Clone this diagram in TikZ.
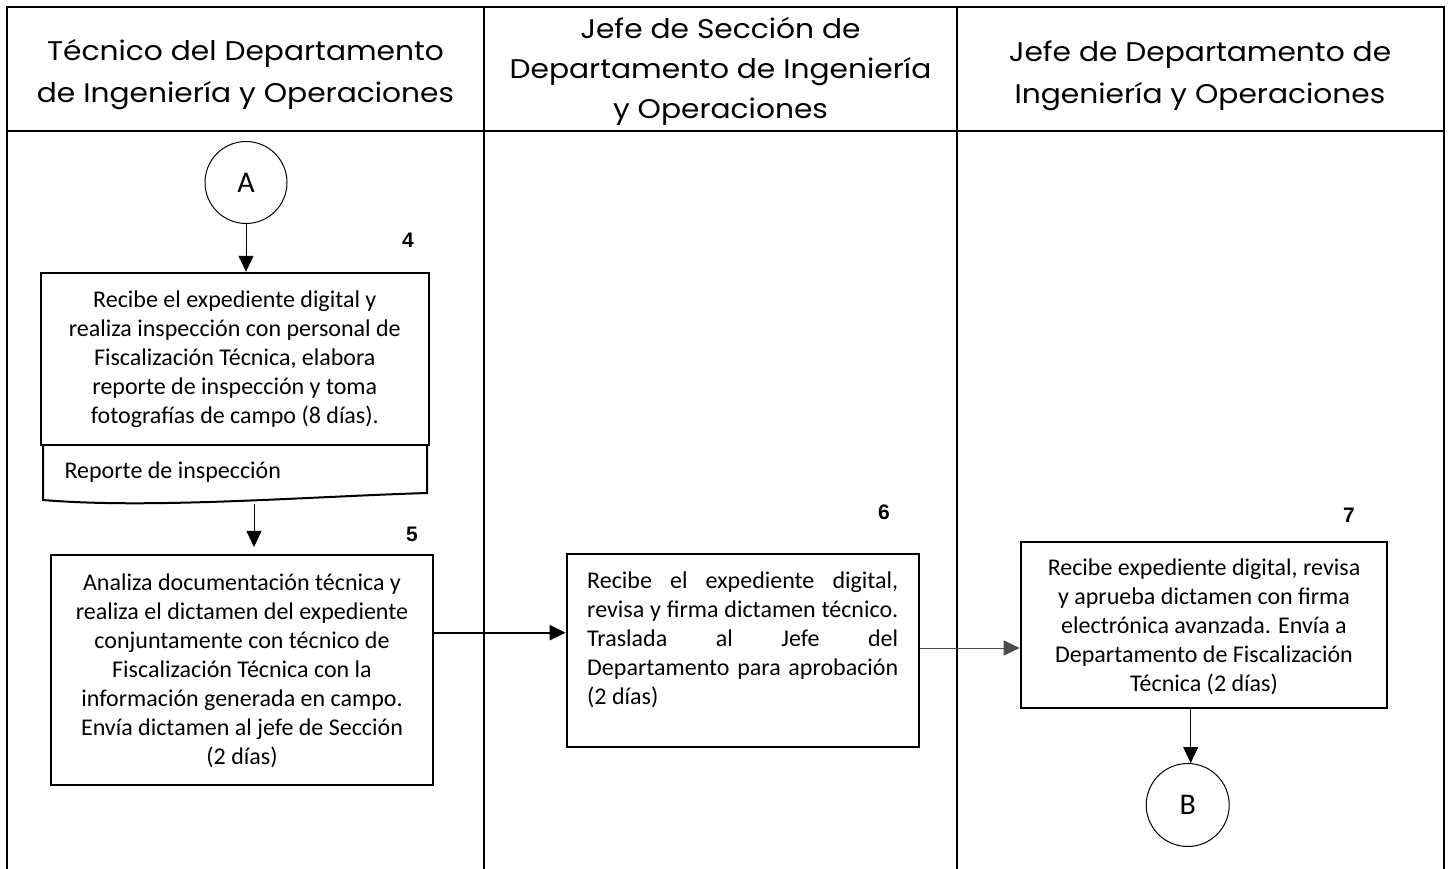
\documentclass[tikz,border=0pt]{standalone}
\usepackage{fontspec}
\setmainfont{Carlito}
\newfontfamily\headfont{Poppins}[FakeStretch=1.1]
\newfontfamily\numfont{Liberation Sans}
\usetikzlibrary{arrows.meta}
\begin{document}
\begin{tikzpicture}[x=1pt,y=-1pt,
  frame/.style={line width=2pt},
  procbox/.style={draw, line width=2pt, rectangle, inner sep=0pt},
  connector/.style={draw, circle, line width=1pt, inner sep=0pt, font=\fontsize{30}{34}\selectfont},
  boxtext/.style={align=center, font=\fontsize{24}{29}\selectfont},
  headtext/.style={align=center, font=\headfont\fontsize{27}{42}\selectfont},
  numlabel/.style={font=\numfont\bfseries\fontsize{21}{24}\selectfont},
  arr/.style={-{Triangle[length=16pt,width=15pt]}, line width=1pt},
  arrthick/.style={-{Triangle[length=16pt,width=15pt]}, line width=2pt},
]
\useasboundingbox (0,0) rectangle (1450,869);
% frame
\draw[frame] (7,869) -- (7,7) -- (1443.5,7) -- (1443.5,869);
\draw[frame] (7,131) -- (1443.5,131);
\draw[frame] (484,7) -- (484,869);
\draw[frame] (957,7) -- (957,869);
% headers
\node[headtext] (h1) at (245.5,75) {Técnico del Departamento\\de Ingeniería y Operaciones};
\node[headtext, font=\headfont\fontsize{27}{40}\selectfont] (h2) at (720.5,71) {Jefe de Sección de\\Departamento de Ingeniería\\y Operaciones};
\node[headtext] (h3) at (1200,76) {Jefe de Departamento de\\Ingeniería y Operaciones};
% connector A
\node[connector, minimum size=82pt] (A) at (246,182.5) {A};
% box 4
\node[procbox, minimum width=388pt, minimum height=172pt] (b4) at (234.8,358.8) {};
\node[boxtext] (t4) at (b4) {Recibe el expediente digital y\\realiza inspección con personal de\\Fiscalización Técnica, elabora\\reporte de inspección y toma\\fotografías de campo (8 días).};
\node[numlabel] (n4) at (408,240) {4};
% document shape
\draw[line width=2pt] (43,445) -- (43,500) .. controls (150,509) and (300,497) .. (427,493) -- (427,445);
\coordinate (docb) at (254,504);
\node[anchor=west, font=\fontsize{24}{29}\selectfont] (doclabel) at (61,472) {Reporte de inspección};
% box 5
\node[procbox, minimum width=382.6pt, minimum height=229.7pt] (b5) at (242,669.8) {};
\node[boxtext] (t5) at ([yshift=-1pt]b5) {Analiza documentación técnica y\\realiza el dictamen del expediente\\conjuntamente con técnico de\\Fiscalización Técnica con la\\información generada en campo.\\Envía dictamen al jefe de Sección\\(2 días)};
\node[numlabel] (n5) at (412,534) {5};
% box 6
\node[procbox, minimum width=352.3pt, minimum height=192.7pt] (b6) at (742.8,650.3) {};
\node[anchor=north west, align=left, inner sep=0pt, font=\fontsize{24}{29}\selectfont] (t6) at (587,572) {\makebox[311pt][s]{Recibe el expediente digital,}\\\makebox[311pt][s]{revisa y firma dictamen técnico.}\\\makebox[311pt][s]{Traslada al Jefe del}\\\makebox[311pt][s]{Departamento para aprobación}\\(2 días)};
\node[numlabel] (n6) at (884,512) {6};
% box 7
\node[procbox, minimum width=366.6pt, minimum height=166pt] (b7) at (1204,625.3) {};
\node[boxtext] (t7) at ([yshift=-2pt]b7) {Recibe expediente digital, revisa\\y aprueba dictamen con firma\\electrónica avanzada. Envía a\\Departamento de Fiscalización\\Técnica (2 días)};
\node[numlabel] (n7) at (1349,515) {7};
% connector B
\node[connector, minimum size=83pt] (B) at (1187.7,805) {B};
% arrows
\draw[arr] (A.south) -- (A |- b4.north);
\draw[arr, shorten >=7pt] (docb) -- (docb |- b5.north);
\draw[arrthick] (b5.east |- 0,632.7) -- (b6.west |- 0,632.7);
\draw[arr, draw=black!70] (b6.east |- 0,648) -- (b7.west |- 0,648);
\draw[arr] (b7.south -| 1190.7,0) -- (B.north -| 1190.7,0);
\end{tikzpicture}
\end{document}
